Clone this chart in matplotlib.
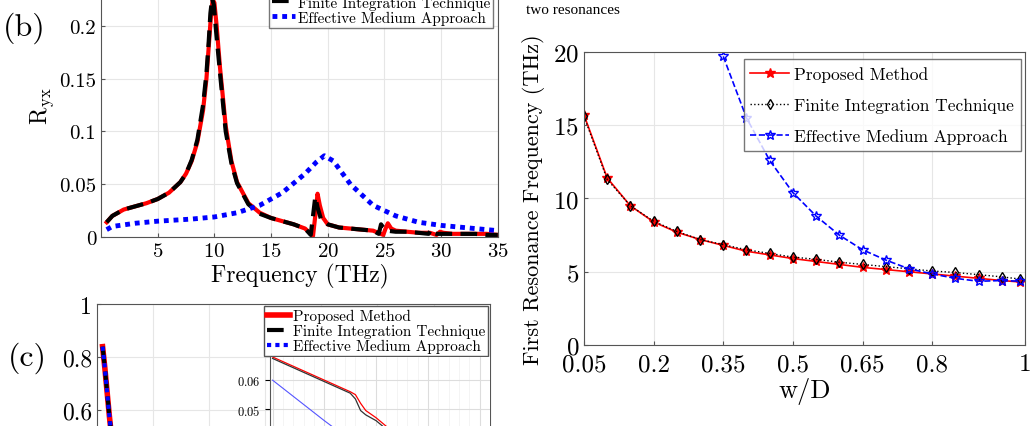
import numpy as np
import matplotlib.pyplot as plt

plt.rcParams['font.family'] = 'serif'
plt.rcParams['font.serif'] = ['cmr10']
plt.rcParams['mathtext.fontset'] = 'cm'
plt.rcParams['axes.formatter.use_mathtext'] = True

# panel (b): cross-polarised reflection
freq_red = [0.5, 1, 2, 3, 4, 5, 6, 7, 7.5, 8, 8.5, 9, 9.3, 9.5, 9.7, 9.85, 10, 10.2, 10.5, 11,
            11.5, 12, 13, 14, 15, 16, 17, 18, 18.7, 18.9, 19.1, 19.3, 19.6, 20, 21, 22, 23, 24,
            24.9, 25.1, 25.3, 25.6, 26, 27, 28, 29, 29.6, 29.9, 30.2, 31, 32, 33, 34, 35]
rxy_red = [0.014, 0.020, 0.026, 0.029, 0.032, 0.036, 0.042, 0.052, 0.060, 0.072, 0.090, 0.120,
           0.150, 0.180, 0.210, 0.225, 0.222, 0.200, 0.160, 0.105, 0.072, 0.052, 0.032, 0.023,
           0.018, 0.015, 0.012, 0.008, 0.001, 0.020, 0.041, 0.030, 0.018, 0.012, 0.009, 0.008,
           0.007, 0.006, 0.002, 0.008, 0.013, 0.008, 0.006, 0.005, 0.004, 0.004, 0.002, 0.005,
           0.004, 0.003, 0.003, 0.003, 0.003, 0.002]
freq_blk = [0.5, 1, 2, 3, 4, 5, 6, 7, 7.5, 8, 8.5, 9, 9.3, 9.5, 9.65, 9.8, 9.95, 10.15, 10.5, 11,
            11.5, 12, 13, 14, 15, 16, 17, 18, 18.5, 18.7, 18.9, 19.1, 19.4, 20, 21, 22, 23, 24,
            24.5, 24.7, 24.9, 25.2, 26, 27, 28, 28.9, 29.1, 29.3, 29.6, 31, 32, 33, 34, 35]
rxy_blk = [0.014, 0.020, 0.026, 0.029, 0.032, 0.036, 0.042, 0.052, 0.060, 0.073, 0.092, 0.125,
           0.155, 0.185, 0.212, 0.226, 0.220, 0.195, 0.155, 0.100, 0.070, 0.051, 0.031, 0.022,
           0.018, 0.015, 0.012, 0.008, 0.002, 0.020, 0.038, 0.028, 0.017, 0.012, 0.009, 0.008,
           0.007, 0.006, 0.003, 0.012, 0.009, 0.006, 0.005, 0.005, 0.004, 0.003, 0.007, 0.004,
           0.003, 0.003, 0.003, 0.003, 0.002, 0.002]
freq_ema = [0.5, 1, 3, 5, 8, 10, 12, 14, 16, 18, 19, 19.7, 20.5, 22, 24, 26, 28, 30, 32, 35]
rxy_ema = [0.007, 0.010, 0.013, 0.015, 0.017, 0.019, 0.023, 0.030, 0.042, 0.060, 0.071, 0.077,
           0.072, 0.050, 0.030, 0.020, 0.014, 0.011, 0.009, 0.006]

# panel (c): transmission (only the top is visible)
freq_c = [0.5, 0.7, 0.9, 1.1, 1.3]
trans_c = [0.84, 0.76, 0.67, 0.58, 0.50]
inset_x = [0, 0.5, 1.0, 1.5, 1.6, 1.7, 1.8, 2.0, 2.2]
inset_red = [0.068, 0.064, 0.060, 0.056, 0.055, 0.052, 0.0495, 0.047, 0.044]
inset_blk = [0.0675, 0.0635, 0.0595, 0.0555, 0.0535, 0.0495, 0.048, 0.046, 0.043]
inset_ema_x = [0, 0.5, 1.0, 1.3]
inset_ema = [0.060, 0.053, 0.046, 0.042]

# right panel: first resonance frequency vs w/D
wd = [0.05, 0.1, 0.15, 0.2, 0.25, 0.3, 0.35, 0.4, 0.45, 0.5, 0.55, 0.6, 0.65, 0.7, 0.75, 0.8,
      0.85, 0.9, 0.95, 0.99]
f_prop = [15.7, 11.4, 9.5, 8.4, 7.7, 7.2, 6.8, 6.4, 6.15, 5.9, 5.7, 5.5, 5.3, 5.15, 5.0, 4.85,
          4.7, 4.55, 4.4, 4.3]
f_fit = [15.6, 11.3, 9.5, 8.45, 7.75, 7.2, 6.85, 6.5, 6.25, 6.0, 5.85, 5.65, 5.5, 5.35, 5.2, 5.05,
         4.95, 4.8, 4.65, 4.5]
wd_ema = [0.35, 0.4, 0.45, 0.5, 0.55, 0.6, 0.65, 0.7, 0.75, 0.8, 0.85, 0.9, 0.95, 0.99]
f_ema = [19.7, 15.5, 12.6, 10.4, 8.8, 7.5, 6.5, 5.8, 5.2, 4.85, 4.55, 4.35, 4.4, 4.35]

fig = plt.figure(figsize=(10.36, 4.27), dpi=100)

def style(ax):
    ax.grid(True, color='#e6e6e6', linewidth=0.8)
    ax.set_axisbelow(True)
    for s in ax.spines.values():
        s.set_color('#555555')
        s.set_linewidth(0.8)
    ax.tick_params(direction='in', color='#555555', length=3)

# (b)
axb = fig.add_axes([0.0975, 0.4426, 0.383, 0.618])
axb.plot(freq_red, rxy_red, color='red', lw=3, label='Proposed Method')
axb.plot(freq_blk, rxy_blk, color='black', lw=3, ls=(0, (4, 2)), label='Finite Integration Technique')
axb.plot(freq_ema, rxy_ema, color='blue', lw=3.5, ls=(0, (1, 1)), label='Effective Medium Approach')
axb.set_xlim(0, 35)
axb.set_ylim(0, 0.25)
axb.set_xticks([5, 10, 15, 20, 25, 30, 35])
axb.set_yticks([0, 0.05, 0.1, 0.15, 0.2])
axb.set_yticklabels(['0', '0.05', '0.1', '0.15', '0.2'])
axb.tick_params(labelsize=15)
axb.set_xlabel('Frequency (THz)', fontsize=17, labelpad=2)
axb.set_ylabel(r'R$_{\rm yx}$', fontsize=17, labelpad=2)
style(axb)
axb.legend(loc='upper right', fontsize=11, handlelength=1.5, handletextpad=0.2,
           borderaxespad=0.3, labelspacing=0.05, fancybox=False, edgecolor='#555555',
           borderpad=0.2, bbox_to_anchor=(1.0, 1.0))
fig.text(0.003, 0.935, '(b)', fontsize=23, va='center')

# (c)
axc = fig.add_axes([0.0936, -0.335, 0.379, 0.62])
axc.plot(freq_c, trans_c, color='red', lw=4, label='Proposed Method')
axc.plot(freq_c, trans_c, color='black', lw=3, ls=(0, (4, 2)), label='Finite Integration Technique')
axc.plot(freq_c, trans_c, color='blue', lw=3, ls=(0, (1, 1)), label='Effective Medium Approach')
axc.set_xlim(0, 35)
axc.set_ylim(0, 1)
axc.set_xticks([5, 10, 15, 20, 25, 30, 35])
axc.set_yticks([0, 0.2, 0.4, 0.6, 0.8, 1])
axc.set_yticklabels(['0', '0.2', '0.4', '0.6', '0.8', '1'])
axc.tick_params(labelsize=17)
axc.set_ylabel('y', fontsize=16)
style(axc)
axc.legend(loc='upper right', fontsize=11, handlelength=1.5, handletextpad=0.2,
           labelspacing=0.05, fancybox=False, edgecolor='#555555', borderpad=0.2,
           borderaxespad=0.1, framealpha=1)
fig.text(0.008, 0.16, '(c)', fontsize=23, va='center', fontweight='bold')

axi = fig.add_axes([0.2606, -0.096, 0.2124, 0.2576])
axi.plot(inset_x, inset_red, color='red', lw=0.9)
axi.plot(inset_x, inset_blk, color='#333333', lw=0.9)
axi.plot(inset_ema_x, inset_ema, color='#5555ff', lw=0.8)
axi.set_xlim(-0.05, 4.2)
axi.set_ylim(0.03, 0.068)
axi.set_yticks([0.04, 0.05, 0.06])
axi.set_xticks([0.0, 1.0, 2.0, 3.0, 4.0])
axi.set_xticks(np.arange(0, 4.2, 0.2), minor=True)
axi.tick_params(labelsize=9)
axi.grid(True, which='major', color='#dddddd', lw=0.8)
axi.grid(True, which='minor', color='#f0f0f0', lw=0.5)
for s in axi.spines.values():
    s.set_visible(False)
axi.spines['left'].set_visible(True)
axi.spines['left'].set_color('#555555')

# right panel
axr = fig.add_axes([0.5637, 0.1897, 0.4257, 0.6862])
axr.plot(wd, f_prop, color='red', lw=1.2, marker='*', ms=7, label='Proposed Method')
axr.plot(wd, f_fit, color='black', lw=1.0, ls=':', marker='d', ms=5, mfc='none',
         mec='black', label='Finite Integration Technique')
axr.plot(wd_ema, f_ema, color='blue', lw=1.2, ls='--', marker='*', ms=7, mfc='none',
         mec='blue', label='Effective Medium Approach')
axr.set_xlim(0.05, 1)
axr.set_ylim(0, 20)
axr.set_xticks([0.05, 0.2, 0.35, 0.5, 0.65, 0.8, 1])
axr.set_xticklabels(['0.05', '0.2', '0.35', '0.5', '0.65', '0.8', '1'])
axr.set_yticks([0, 5, 10, 15, 20])
axr.tick_params(labelsize=18)
axr.tick_params(axis='x', pad=6)
axr.set_xlabel('w/D', fontsize=19, labelpad=1)
axr.set_ylabel('First Resonance Frequency (THz)', fontsize=16, labelpad=6)
style(axr)
axr.legend(loc='upper right', fontsize=12.5, handlelength=2.2, handletextpad=0.3,
           labelspacing=0.9, fancybox=False, edgecolor='#555555', borderaxespad=0.25,
           bbox_to_anchor=(1.0, 0.99))

fig.text(0.508, 0.975, 'two resonances', fontsize=11, family='Liberation Serif', va='center')

fig.savefig('out.png', dpi=100)
